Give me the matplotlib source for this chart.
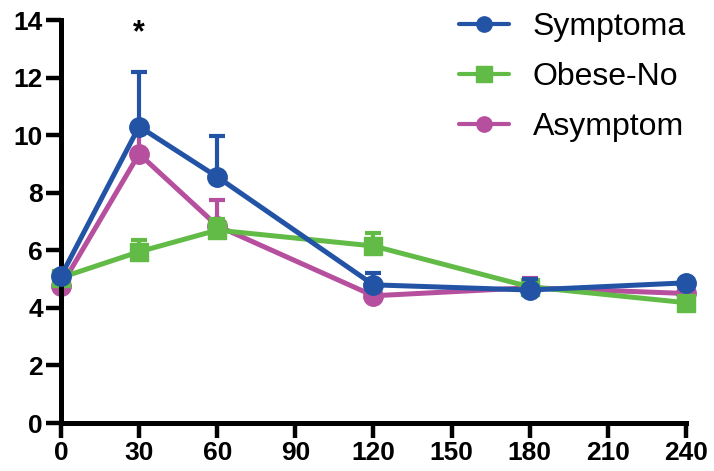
import numpy as np
import matplotlib.pyplot as plt
from matplotlib.lines import Line2D

plt.rcParams['font.family'] = ['Liberation Sans', 'DejaVu Sans']

# time points (min)
time = [0, 30, 60, 120, 180, 240]

# group means and upper SEM
symptomatic = [5.1, 10.3, 8.55, 4.8, 4.62, 4.87]
symptomatic_err = [0.0, 1.9, 1.42, 0.42, 0.4, 0.0]
obese = [5.05, 5.95, 6.7, 6.15, 4.73, 4.18]
obese_err = [0.0, 0.42, 0.37, 0.46, 0.0, 0.0]
asymptomatic = [4.75, 9.35, 6.85, 4.42, 4.7, 4.5]
asymptomatic_err = [0.0, 0.78, 0.88, 0.0, 0.33, 0.0]

# legend labels as they appear (cut short in the original figure)
labels = ['Symptoma', 'Obese-No', 'Asymptom']
colors = ['#2253A5', '#62BB46', '#B64F9E']
markers = ['o', 's', 'o']

fig = plt.figure(figsize=(7.14, 4.71), dpi=100)
ax = fig.add_axes([0.0854, 0.1019, 0.8754, 0.8556])

series = [(symptomatic, symptomatic_err, 3), (obese, obese_err, 2), (asymptomatic, asymptomatic_err, 1)]
handles = []
for (vals, err, z), col, mk in zip(series, colors, markers):
    yerr = [np.zeros(len(err)), err]
    eb = ax.errorbar(time, vals, yerr=yerr, color=col, lw=3.6, marker=mk,
                     ms=14 if mk == 'o' else 13, capsize=6, capthick=3,
                     elinewidth=3, zorder=z, clip_on=False)
    for c in eb.get_children():
        c.set_clip_on(False)
    handles.append(Line2D([], [], color=col, lw=3, marker=mk,
                          ms=11 if mk == 'o' else 11.5, solid_capstyle='round'))

ax.text(30, 13.55, '*', ha='center', va='center', fontsize=22, fontweight='bold')

ax.set_xlim(0, 240)
ax.set_ylim(0, 14)
ax.set_xticks(np.arange(0, 241, 30))
ax.set_yticks(np.arange(0, 15, 2))
for s in ['top', 'right']:
    ax.spines[s].set_visible(False)
for s in ['left', 'bottom']:
    ax.spines[s].set_linewidth(3.6)
ax.tick_params(width=3.2, length=11, labelsize=19, pad=2)
for lbl in ax.get_xticklabels() + ax.get_yticklabels():
    lbl.set_fontweight('bold')

fig.legend(handles=handles, labels=labels, loc='center left',
           bbox_to_anchor=(459 / 714, 1 - 77 / 471), frameon=False,
           fontsize=23, handlelength=1.55, handletextpad=0.75,
           labelspacing=0.62, borderpad=0, borderaxespad=0)

fig.savefig('out.png', dpi=100)
